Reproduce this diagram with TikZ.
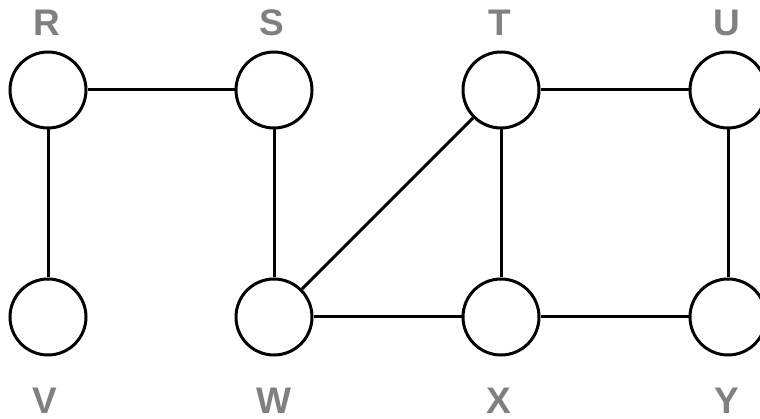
\documentclass[tikz,border=0pt]{standalone}
\usepackage{fontspec}
\setmainfont{Liberation Sans}
\definecolor{lblgray}{HTML}{808080}
\begin{document}
\begin{tikzpicture}[x=1pt,y=-1pt,
  vtx/.style={circle,draw=black,line width=3pt,minimum size=76pt,inner sep=0pt,fill=white},
  lbl/.style={anchor=base,text=lblgray,font=\fontsize{37}{37}\selectfont\bfseries,inner sep=0pt},
  edge/.style={draw=black,line width=3pt}]
\useasboundingbox (0,0) rectangle (760,419);
\node[vtx] (R) at (48,90) {};
\node[vtx] (S) at (274,90) {};
\node[vtx] (T) at (501,90) {};
\node[vtx] (U) at (728,90) {};
\node[vtx] (V) at (48,317) {};
\node[vtx] (W) at (274,317) {};
\node[vtx] (X) at (501,317) {};
\node[vtx] (Y) at (728,317) {};
\node[lbl] (lR) at (47,36) {R};
\node[lbl] (lS) at (272,36) {S};
\node[lbl] (lT) at (500,36) {T};
\node[lbl] (lU) at (727,36) {U};
\node[lbl] (lV) at (45,413) {V};
\node[lbl] (lW) at (274,413) {W};
\node[lbl] (lX) at (499,413) {X};
\node[lbl] (lY) at (727,413) {Y};
\draw[edge] (R) -- (S);
\draw[edge] (R) -- (V);
\draw[edge] (S) -- (W);
\draw[edge] (W) -- (T);
\draw[edge] (T) -- (U);
\draw[edge] (T) -- (X);
\draw[edge] (W) -- (X);
\draw[edge] (X) -- (Y);
\draw[edge] (U) -- (Y);
\end{tikzpicture}
\end{document}
